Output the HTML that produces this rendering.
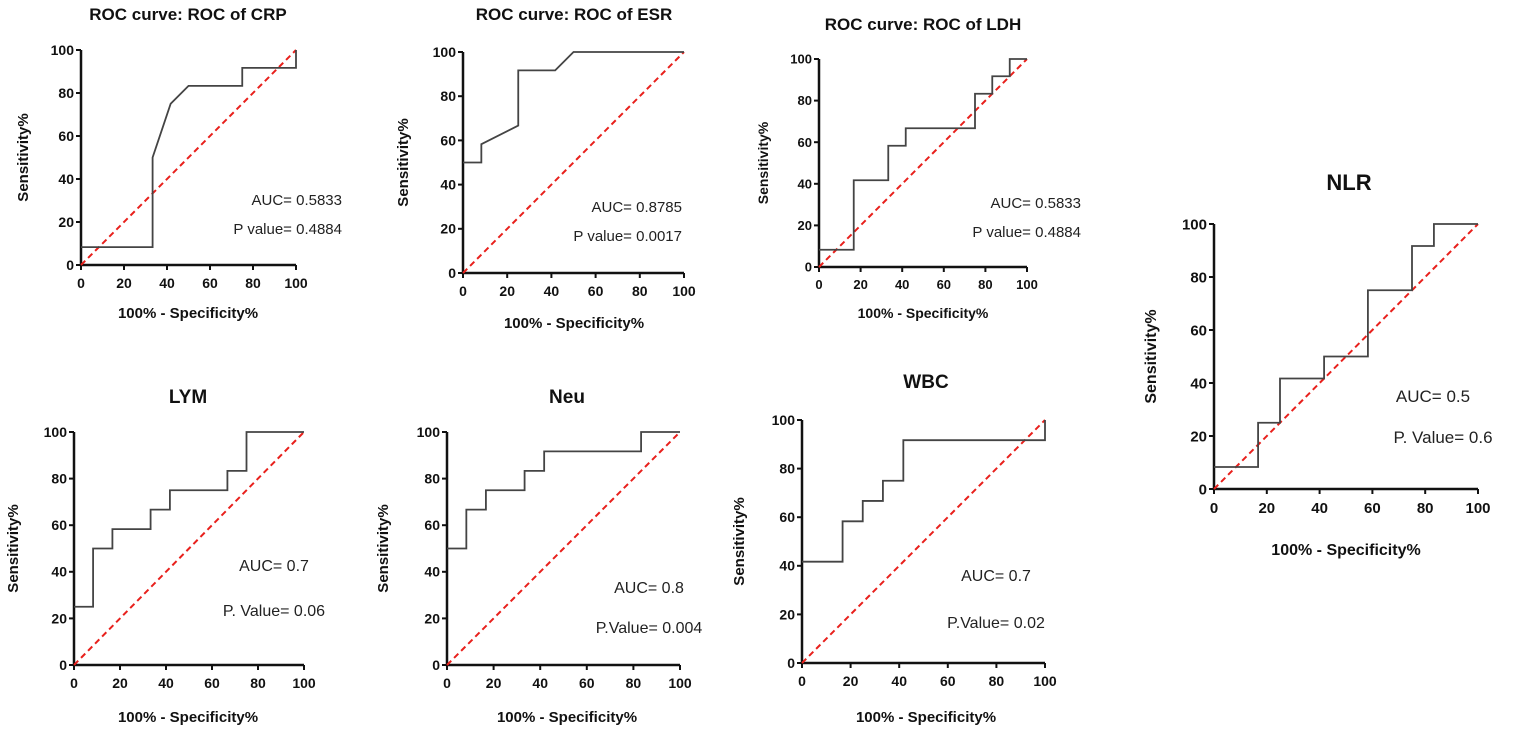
<!DOCTYPE html>
<html><head><meta charset="utf-8"><style>
body{margin:0;background:#fff;}
svg{display:block;font-family:"Liberation Sans",Arial,sans-serif;}
</style></head><body>
<svg id="fig" width="1535" height="733" viewBox="0 0 1535 733"></svg>
<script>
// ---- data arrays (FPR %, sensitivity %) ----
const crpX=[0,33.3,33.3,41.7,50,75,75,100,100];
const crpY=[8.3,8.3,50,75,83.3,83.3,91.7,91.7,100];
const esrX=[0,8.3,8.3,25,25,41.7,50,100];
const esrY=[50,50,58.3,66.7,91.7,91.7,100,100];
const ldhX=[0,16.7,16.7,33.3,33.3,41.7,41.7,75,75,83.3,83.3,91.7,91.7,100];
const ldhY=[8.3,8.3,41.7,41.7,58.3,58.3,66.7,66.7,83.3,83.3,91.7,91.7,100,100];
const nlrX=[0,16.7,16.7,25,25,41.7,41.7,58.3,58.3,75,75,83.3,83.3,100];
const nlrY=[8.3,8.3,25,25,41.7,41.7,50,50,75,75,91.7,91.7,100,100];
const lymX=[0,8.3,8.3,16.7,16.7,33.3,33.3,41.7,41.7,66.7,66.7,75,75,100];
const lymY=[25,25,50,50,58.3,58.3,66.7,66.7,75,75,83.3,83.3,100,100];
const neuX=[0,8.3,8.3,16.7,16.7,33.3,33.3,41.7,41.7,83.3,83.3,100];
const neuY=[50,50,66.7,66.7,75,75,83.3,83.3,91.7,91.7,100,100];
const wbcX=[0,16.7,16.7,25,25,33.3,33.3,41.7,41.7,100,100];
const wbcY=[41.7,41.7,58.3,58.3,66.7,66.7,75,75,91.7,91.7,100];
const tickVals=[0,20,40,60,80,100];
const titles=["ROC curve: ROC of CRP","ROC curve: ROC of ESR","ROC curve: ROC of LDH","NLR","LYM","Neu","WBC"];
const aucLabels=["AUC= 0.5833","AUC= 0.8785","AUC= 0.5833","AUC= 0.5","AUC= 0.7","AUC= 0.8","AUC= 0.7"];
const pLabels=["P value= 0.4884","P value= 0.0017","P value= 0.4884","P. Value= 0.6","P. Value= 0.06","P.Value= 0.004","P.Value= 0.02"];

const NS="http://www.w3.org/2000/svg";
const svg=document.getElementById('fig');
function mk(tag,attrs,parent){const e=document.createElementNS(NS,tag);for(const k in attrs)e.setAttribute(k,attrs[k]);(parent||svg).appendChild(e);return e;}

const panels=[
 {key:'crp',xs:crpX,ys:crpY,x0:81,x1:296,yb:265,yt:50,ty:20,tx:188,tf:17,fs:14,lx:188,ly:318,ytx:28,aucX:342,aucY:205,pX:342,pY:234,anchor:'end',af:15},
 {key:'esr',xs:esrX,ys:esrY,x0:463,x1:684,yb:273,yt:52,ty:20,tx:574,tf:17,fs:14,lx:574,ly:328,ytx:408,aucX:682,aucY:212,pX:682,pY:241,anchor:'end',af:15},
 {key:'ldh',xs:ldhX,ys:ldhY,x0:819,x1:1027,yb:267,yt:59,ty:30,tx:923,tf:17,fs:13,lx:923,ly:318,ytx:768,aucX:1081,aucY:208,pX:1081,pY:237,anchor:'end',af:15},
 {key:'nlr',xs:nlrX,ys:nlrY,x0:1214,x1:1478,yb:489,yt:224,ty:190,tx:1349,tf:22,fs:15,lx:1346,ly:555,ytx:1156,aucX:1433,aucY:402,pX:1443,pY:443,anchor:'middle',af:17},
 {key:'lym',xs:lymX,ys:lymY,x0:74,x1:304,yb:665,yt:432,ty:403,tx:188,tf:19,fs:14,lx:188,ly:722,ytx:18,aucX:274,aucY:571,pX:274,pY:616,anchor:'middle',af:16},
 {key:'neu',xs:neuX,ys:neuY,x0:447,x1:680,yb:665,yt:432,ty:403,tx:567,tf:19,fs:14,lx:567,ly:722,ytx:388,aucX:649,aucY:593,pX:649,pY:633,anchor:'middle',af:16},
 {key:'wbc',xs:wbcX,ys:wbcY,x0:802,x1:1045,yb:663,yt:420,ty:388,tx:926,tf:19,fs:14,lx:926,ly:722,ytx:744,aucX:996,aucY:581,pX:996,pY:628,anchor:'middle',af:16}
];

panels.forEach((p,i)=>{
 const g=mk('g',{});
 
 
 const sx=v=>p.x0+(p.x1-p.x0)*v/100;
 const sy=v=>p.yb-(p.yb-p.yt)*v/100;
 const t=mk('text',{x:p.tx,y:p.ty,'text-anchor':'middle','font-size':p.tf,'font-weight':'bold',fill:'#111'},g);
 t.textContent=titles[i];
 
 
 const ax=mk('path',{d:`M${p.x0},${p.yt} V${p.yb} H${p.x1}`,stroke:'#111','stroke-width':2.5,fill:'none'},g);
 
 
 tickVals.forEach(v=>{
  mk('line',{x1:p.x0-5,x2:p.x0,y1:sy(v),y2:sy(v),stroke:'#111','stroke-width':2},g);
  mk('line',{x1:sx(v),x2:sx(v),y1:p.yb,y2:p.yb+5,stroke:'#111','stroke-width':2},g);
  const yl=mk('text',{x:p.x0-7,y:sy(v)+p.fs*0.35,'text-anchor':'end','font-size':p.fs,'font-weight':'bold',fill:'#111'},g);
  yl.textContent=v;
  
  
  const xl=mk('text',{x:sx(v),y:p.yb+p.fs+9,'text-anchor':'middle','font-size':p.fs,'font-weight':'bold',fill:'#111'},g);
  xl.textContent=v;
  
  
 });
 const xt=mk('text',{x:p.lx,y:p.ly,'text-anchor':'middle','font-size':p.fs+1,'font-weight':'bold',fill:'#111'},g);
 xt.textContent='100% - Specificity%';
 
 
 const cy=(p.yt+p.yb)/2;
 const yt=mk('text',{x:p.ytx,y:cy,'text-anchor':'middle','font-size':p.fs+1,'font-weight':'bold',fill:'#111',transform:`rotate(-90 ${p.ytx} ${cy})`},g);
 yt.textContent='Sensitivity%';
 
 
 const dg=mk('line',{x1:sx(0),y1:sy(0),x2:sx(100),y2:sy(100),stroke:'#e8201c','stroke-width':2,'stroke-dasharray':'6,4'},g);
 
 
 const pts=p.xs.map((x,k)=>sx(x)+','+sy(p.ys[k])).join(' ');
 const pl=mk('polyline',{points:pts,fill:'none',stroke:'#444','stroke-width':1.8},g);
 
 
 const a=mk('text',{x:p.aucX,y:p.aucY,'text-anchor':p.anchor,'font-size':p.af,fill:'#222'},g);
 a.textContent=aucLabels[i];
 
 
 const pv=mk('text',{x:p.pX,y:p.pY,'text-anchor':p.anchor,'font-size':p.af,fill:'#222'},g);
 pv.textContent=pLabels[i];
 
 
});
</script>
</body></html>
